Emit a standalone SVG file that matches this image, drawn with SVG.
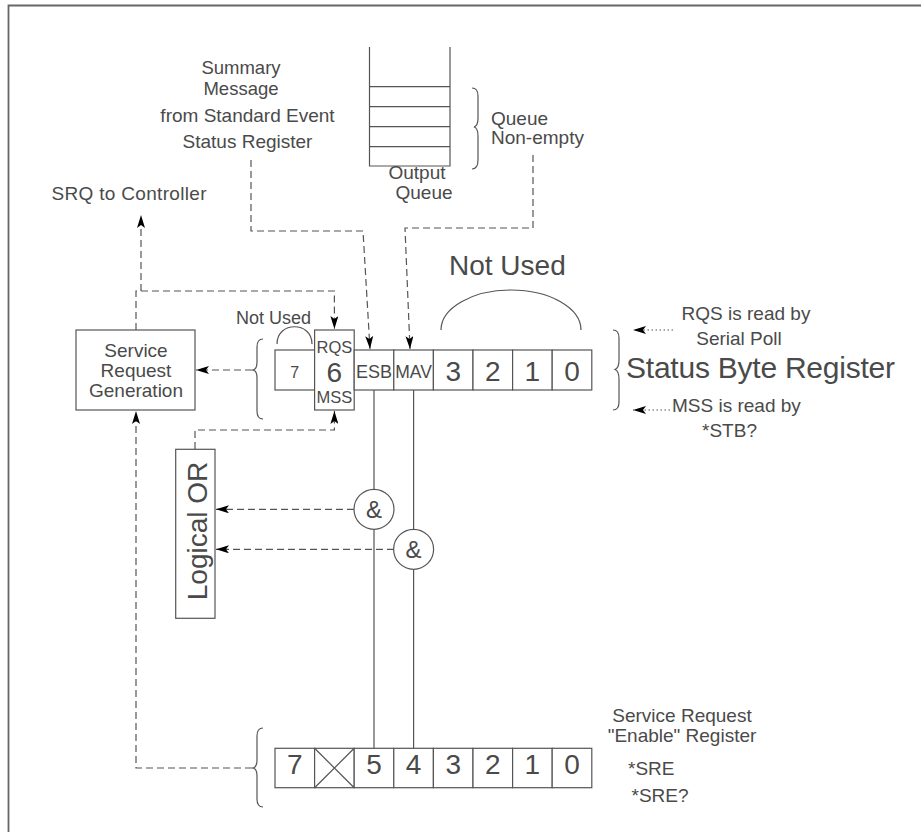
<svg xmlns="http://www.w3.org/2000/svg" width="921" height="832" viewBox="0 0 921 832">
<style>
text{font-family:"Liberation Sans",Arial,sans-serif;fill:#4a4a4a;}
.s19{font-size:19px;}
.s17{font-size:17px;}
.s28{font-size:28px;}
.ln{fill:none;stroke:#555;stroke-width:1.2;}
.box{fill:#fff;stroke:#555;stroke-width:1.2;}
.dash{fill:none;stroke:#555;stroke-width:1.2;stroke-dasharray:7 4;}
.dot{fill:none;stroke:#555;stroke-width:1.2;stroke-dasharray:1.5 2.5;}
.mid{text-anchor:middle;}
</style>
<defs>
<marker id="ah" markerWidth="14" markerHeight="8" refX="13" refY="4" orient="auto" markerUnits="userSpaceOnUse">
<path d="M0,0 L13,4 L0,8 L3,4 Z" fill="#000" stroke="none"/>
</marker>
</defs>

<g id="frame">
<path d="M8.5,832 V5.5 H921" fill="none" stroke="#666" stroke-width="1.8"/>
</g>

<g id="output-queue">
<path class="ln" d="M369.5,47 V166 H450 V47"/>
<path class="ln" d="M369.5,86.7 H450 M369.5,106.7 H450 M369.5,126.7 H450 M369.5,146.7 H450"/>
<text class="s19 mid" x="417" y="179">Output</text>
<text class="s19 mid" x="424" y="199">Queue</text>
</g>

<g id="queue-nonempty">
<path class="ln" d="M472,88 Q478,88 478,96 L478,118 Q478,126 474,127 Q478,128 478,136 L478,160 Q478,169 472,169"/>
<text class="s19" x="491" y="125">Queue</text>
<text class="s19" x="491" y="144">Non-empty</text>
</g>

<g id="summary-label">
<text class="mid" style="font-size:18.5px" x="241" y="74">Summary</text>
<text class="mid" style="font-size:18.5px" x="241" y="95">Message</text>
<text class="s19 mid" x="247.5" y="121.5">from Standard Event</text>
<text class="s19 mid" x="247.5" y="148">Status Register</text>
</g>

<g id="srq-label">
<text class="s19" x="51.5" y="200" textLength="155">SRQ to Controller</text>
</g>

<g id="service-request-generation">
<rect class="box" x="76" y="330" width="119" height="80"/>
<text class="s19 mid" x="136" y="357">Service</text>
<text class="s19 mid" x="136" y="377">Request</text>
<text class="s19 mid" x="136" y="397">Generation</text>
</g>

<g id="status-byte-register">
<path class="ln" d="M263,339 Q257,339 257,347 L257,362 Q257,370 252,370 Q257,370 257,378 L257,411 Q257,419 263,419"/>
<rect class="box" x="275" y="350" width="39.6" height="40"/>
<rect class="box" x="314.6" y="330" width="39.6" height="80"/>
<rect class="box" x="354.2" y="350" width="39.6" height="40"/>
<rect class="box" x="393.8" y="350" width="39.6" height="40"/>
<rect class="box" x="433.4" y="350" width="39.6" height="40"/>
<rect class="box" x="473" y="350" width="39.6" height="40"/>
<rect class="box" x="512.6" y="350" width="39.6" height="40"/>
<rect class="box" x="552.2" y="350" width="39.6" height="40"/>
<text class="mid" style="font-size:16px" x="294.8" y="378">7</text>
<text class="mid" style="font-size:16.5px" x="334.4" y="353">RQS</text>
<text class="s28 mid" x="334.4" y="381.5">6</text>
<text class="mid" style="font-size:16.5px" x="334.4" y="403">MSS</text>
<text class="mid" style="font-size:18px" x="374" y="377.5">ESB</text>
<text class="mid" style="font-size:17.5px" x="413.6" y="377.5">MAV</text>
<text class="s28 mid" x="453.2" y="380.5">3</text>
<text class="s28 mid" x="492.8" y="380.5">2</text>
<text class="s28 mid" x="532.4" y="380.5">1</text>
<text class="s28 mid" x="572" y="380.5">0</text>
<path class="ln" d="M277,344 C277,321 312,321 312,344"/>
<text style="font-size:18px" x="236" y="324">Not Used</text>
<path class="ln" d="M441,330 A70,40 0 0 1 581,330"/>
<text class="s28" x="449" y="275">Not Used</text>
<path class="ln" d="M613,330 Q619,330 619,338 L619,360 Q619,368 615,369.5 Q619,371 619,379 L619,402 Q619,410 613,410"/>
<text style="font-size:30px" x="626" y="378" textLength="269">Status Byte Register</text>
<text class="s19 mid" x="746" y="320">RQS is read by</text>
<text class="s19 mid" x="739" y="345">Serial Poll</text>
<text class="s19" x="672" y="412">MSS is read by</text>
<text class="s19 mid" x="729.5" y="436.5">*STB?</text>
</g>

<g id="logical-or">
<rect class="box" x="175.7" y="449.3" width="39.3" height="169"/>
<text class="s28 mid" transform="translate(206.5,531) rotate(-90)" x="0" y="0">Logical OR</text>
</g>

<g id="sre-register">
<path class="ln" d="M263,728 Q257,728 257,736 L257,760 Q257,768 252,768 Q257,768 257,776 L257,799 Q257,807 263,807"/>
<rect class="box" x="275" y="748.3" width="39.6" height="39.4"/>
<rect class="box" x="314.6" y="748.3" width="39.6" height="39.4"/>
<rect class="box" x="354.2" y="748.3" width="39.6" height="39.4"/>
<rect class="box" x="393.8" y="748.3" width="39.6" height="39.4"/>
<rect class="box" x="433.4" y="748.3" width="39.6" height="39.4"/>
<rect class="box" x="473" y="748.3" width="39.6" height="39.4"/>
<rect class="box" x="512.6" y="748.3" width="39.6" height="39.4"/>
<rect class="box" x="552.2" y="748.3" width="39.6" height="39.4"/>
<path class="ln" d="M314.6,748.3 L354.2,787.7 M354.2,748.3 L314.6,787.7"/>
<text class="s28 mid" x="294.8" y="774">7</text>
<text class="s28 mid" x="374" y="774">5</text>
<text class="s28 mid" x="413.6" y="774">4</text>
<text class="s28 mid" x="453.2" y="774">3</text>
<text class="s28 mid" x="492.8" y="774">2</text>
<text class="s28 mid" x="532.4" y="774">1</text>
<text class="s28 mid" x="572" y="774">0</text>
<text class="s19 mid" x="682" y="721.5">Service Request</text>
<text class="s19 mid" x="682" y="741.5">"Enable" Register</text>
<text class="s19" x="628" y="775">*SRE</text>
<text class="s19" x="631.5" y="801.5">*SRE?</text>
</g>

<g id="connectors">
<path class="ln" d="M374,390 V748.3 M413.6,390 V748.3"/>
<path class="dash" d="M141,291 V215" marker-end="url(#ah)"/>
<path class="dash" d="M136,330 V291 H334.4 V329" marker-end="url(#ah)"/>
<path class="dash" d="M251,160 V231 H363 L370,349" marker-end="url(#ah)"/>
<path class="dash" d="M533,155 V228 H405 L410,349" marker-end="url(#ah)"/>
<path class="dash" d="M252,370 H196" marker-end="url(#ah)"/>
<path class="dash" d="M195,449 V430 H334.4 V411" marker-end="url(#ah)"/>
<path class="dash" d="M354,509.3 H216" marker-end="url(#ah)"/>
<path class="dash" d="M394,549.3 H216" marker-end="url(#ah)"/>
<path class="dash" d="M252,768 H136 V411" marker-end="url(#ah)"/>
<path class="dot" d="M673,330 H633" marker-end="url(#ah)"/>
<path class="dot" d="M670,410 H633" marker-end="url(#ah)"/>
</g>

<g id="and1">
<circle class="box" cx="374" cy="509.3" r="20"/>
<text class="mid" style="font-size:24px" x="374" y="518">&amp;</text>
</g>
<g id="and2">
<circle class="box" cx="413.6" cy="549.3" r="20"/>
<text class="mid" style="font-size:24px" x="413.6" y="558">&amp;</text>
</g>
</svg>
